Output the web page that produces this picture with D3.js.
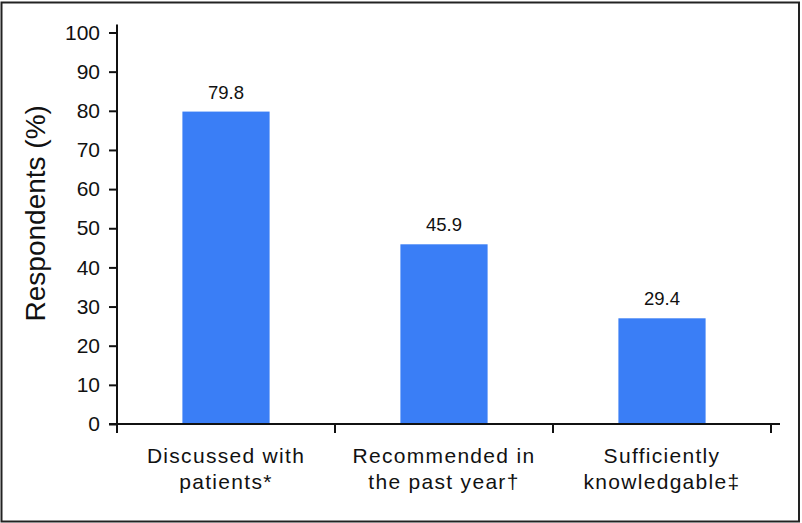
<!DOCTYPE html>
<html>
<head>
<meta charset="utf-8">
<script src="https://cdn.jsdelivr.net/npm/d3@7"></script>
<style>
  html, body { margin: 0; padding: 0; background: #fff; }
  svg { display: block; }
  text { font-family: "Liberation Sans", Arial, Helvetica, sans-serif; fill: #111; }
</style>
</head>
<body>
<script>
// ---- data ----
const categories = ["Discussed with|patients*", "Recommended in|the past year†", "Sufficiently|knowledgable‡"];
const barHeights = [79.8, 45.9, 27.0];          // bar heights as drawn in the picture
const barLabels = ["79.8", "45.9", "29.4"];      // value labels printed above the bars
const yTicks = [0, 10, 20, 30, 40, 50, 60, 70, 80, 90, 100];
const yTitle = "Respondents (%)";

// ---- layout ----
const W = 802, H = 523;
const svg = d3.select("body").append("svg").attr("width", W).attr("height", H);

svg.append("rect")
  .attr("x", 1.5).attr("y", 2.5).attr("width", 797.5).attr("height", 519)
  .attr("fill", "#fff").attr("stroke", "#222").attr("stroke-width", 2);

const x0 = 117, x1 = 771, yBottom = 424, yTop = 32.5;
const x = d3.scaleBand().domain(categories).range([x0, x1]).paddingInner(0).paddingOuter(0);
const y = d3.scaleLinear().domain([0, 100]).range([yBottom, yTop]);

// bars
const barW = x.bandwidth() * 0.4;
svg.append("g").selectAll("rect").data(categories).join("rect")
  .attr("x", (d) => x(d) + (x.bandwidth() - barW) / 2)
  .attr("y", (d, i) => y(barHeights[i]))
  .attr("width", barW)
  .attr("height", (d, i) => y(0) - y(barHeights[i]))
  .attr("fill", "#3a7ef6");

// value labels
svg.append("g").selectAll("text").data(categories).join("text")
  .attr("x", (d) => x(d) + x.bandwidth() / 2)
  .attr("y", (d, i) => y(barHeights[i]) - 13)
  .attr("text-anchor", "middle")
  .style("font-size", "18.5px")
  .text((d, i) => barLabels[i]);

// y axis
const yAxis = d3.axisLeft(y).tickValues(yTicks).tickSize(8).tickSizeOuter(0).tickPadding(9);
const gy = svg.append("g").attr("transform", `translate(${x0},0)`).call(yAxis);
gy.select(".domain").remove();
gy.selectAll(".tick line").attr("stroke", "#111").attr("stroke-width", 2);
gy.selectAll(".tick text").style("font-size", "21px").attr("fill", "#111")
  .style("font-family", '"Liberation Sans", Arial, sans-serif');
svg.append("line")
  .attr("x1", x0).attr("x2", x0).attr("y1", y(100) - 8).attr("y2", yBottom + 1)
  .attr("stroke", "#111").attr("stroke-width", 2);

// x axis
svg.append("line")
  .attr("x1", x0 - 8).attr("x2", x1 + 9).attr("y1", yBottom).attr("y2", yBottom)
  .attr("stroke", "#111").attr("stroke-width", 2);
const boundaries = categories.map((d) => x(d)).concat([x1]);
svg.append("g").selectAll("line").data(boundaries).join("line")
  .attr("x1", (d) => d).attr("x2", (d) => d)
  .attr("y1", yBottom).attr("y2", yBottom + 9)
  .attr("stroke", "#111").attr("stroke-width", 2);

const xl = svg.append("g").selectAll("text").data(categories).join("text")
  .attr("text-anchor", "middle")
  .style("font-size", "21px")
  .style("letter-spacing", "1.3px");
xl.each(function (d) {
  const lines = d.split("|");
  const cx = x(d) + x.bandwidth() / 2;
  d3.select(this).selectAll("tspan").data(lines).join("tspan")
    .attr("x", cx)
    .attr("y", (l, i) => yBottom + 39 + i * 26)
    .text((l) => l);
});

// y title
svg.append("text")
  .attr("transform", `translate(45,${(y(0) + y(100)) / 2 - 15}) rotate(-90)`)
  .attr("text-anchor", "middle")
  .style("font-size", "28px")
  .text(yTitle);
</script>
</body>
</html>
